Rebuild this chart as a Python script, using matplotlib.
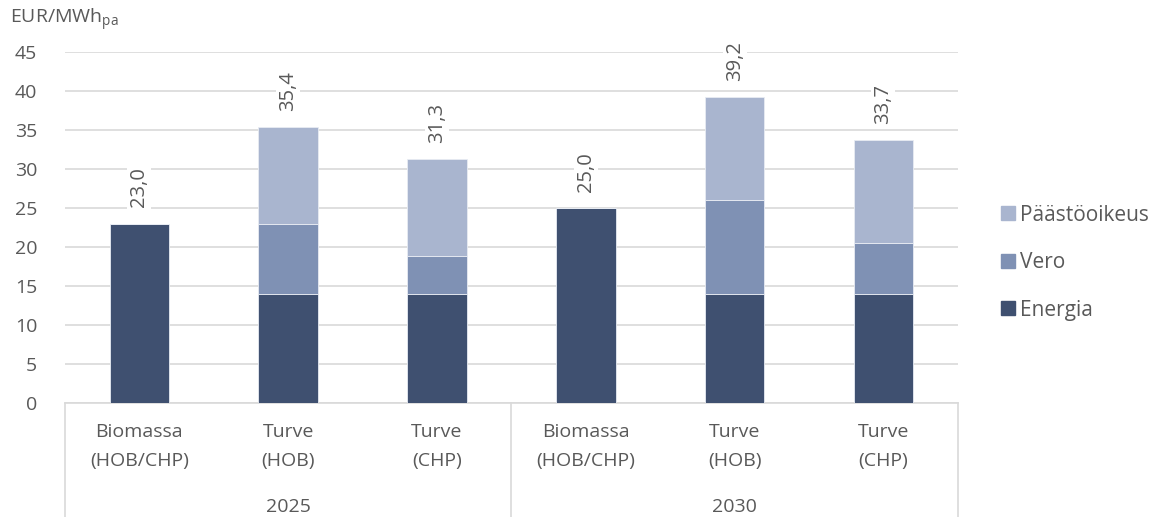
import matplotlib.pyplot as plt
from matplotlib.lines import Line2D
from matplotlib.patches import Patch

plt.rcParams['font.family'] = ['Open Sans', 'DejaVu Sans']

# costs per fuel, EUR/MWh
categories = ['Biomassa\n(HOB/CHP)', 'Turve\n(HOB)', 'Turve\n(CHP)',
              'Biomassa\n(HOB/CHP)', 'Turve\n(HOB)', 'Turve\n(CHP)']
years = ['2025', '2030']
energia = [23.0, 14.0, 14.0, 25.0, 14.0, 14.0]
vero = [0.0, 9.0, 4.9, 0.0, 12.0, 6.5]
paastooikeus = [0.0, 12.4, 12.4, 0.0, 13.2, 13.2]
totals = [23.0, 35.4, 31.3, 25.0, 39.2, 33.7]

c_energia = '#3f5070'
c_vero = '#7f91b4'
c_paasto = '#a9b5cf'
txt = '#595959'
gridc = '#d9d9d9'
fs = 14

fig = plt.figure(figsize=(11.54, 5.17), dpi=100)
ax = fig.add_axes([0.0563, 0.2205, 0.7737, 0.6785])

x = range(len(categories))
w = 0.40
ax.bar(x, energia, w, color=c_energia, edgecolor='#e8ecf3', linewidth=0.6, zorder=3)
ax.bar(x, vero, w, bottom=energia, color=c_vero, edgecolor='#e8ecf3', linewidth=0.6, zorder=3)
bot2 = [a + b for a, b in zip(energia, vero)]
ax.bar(x, paastooikeus, w, bottom=bot2, color=c_paasto, edgecolor='#e8ecf3', linewidth=0.6, zorder=3)

for i, t in enumerate(totals):
    ax.text(i, t + 2.1, f'{t:.1f}'.replace('.', ','), rotation=90, ha='center', va='bottom',
            fontsize=fs + 0.5, color=txt, zorder=4,
            bbox=dict(facecolor='white', edgecolor='none', pad=1.5))

ax.set_xlim(-0.5, 5.5)
ax.set_ylim(0, 45)
ax.set_yticks(range(0, 46, 5))
ax.yaxis.grid(True, color=gridc, linewidth=1.2)
ax.set_axisbelow(True)
for s in ['top', 'right', 'left']:
    ax.spines[s].set_visible(False)
ax.spines['bottom'].set_color(gridc)
ax.spines['bottom'].set_linewidth(1.2)
ax.tick_params(axis='y', length=0, labelsize=fs, labelcolor=txt, pad=20)
ax.tick_params(axis='x', length=0, labelbottom=False)

# two-level category axis, one text per line
for i, c in enumerate(categories):
    for j, line in enumerate(c.split('\n')):
        ax.text(i, -3.7 - 3.75 * j, line, ha='center', va='center', fontsize=fs, color=txt)
for k, y in enumerate(years):
    ax.text(1 + 3 * k, -13.3, y, ha='center', va='center', fontsize=fs, color=txt)
for xs in [-0.5, 2.5, 5.5]:
    ax.add_line(Line2D([xs, xs], [0, -16.5], color=gridc, linewidth=1.2, clip_on=False))

fig.text(0.009, 0.962, 'EUR/MWh$_{\\mathregular{pa}}$', ha='left', va='center',
         fontsize=fs, color=txt)

handles = [Patch(color=c_paasto), Patch(color=c_vero), Patch(color=c_energia)]
labels = ['Päästöoikeus', 'Vero', 'Energia']
leg = fig.legend(handles, labels, loc='center left', bbox_to_anchor=(0.851, 0.492),
                 frameon=False, fontsize=15, handlelength=0.67, handleheight=0.67,
                 handletextpad=0.25, labelspacing=1.27)
for t in leg.get_texts():
    t.set_color(txt)

fig.savefig('out.png', dpi=100)
